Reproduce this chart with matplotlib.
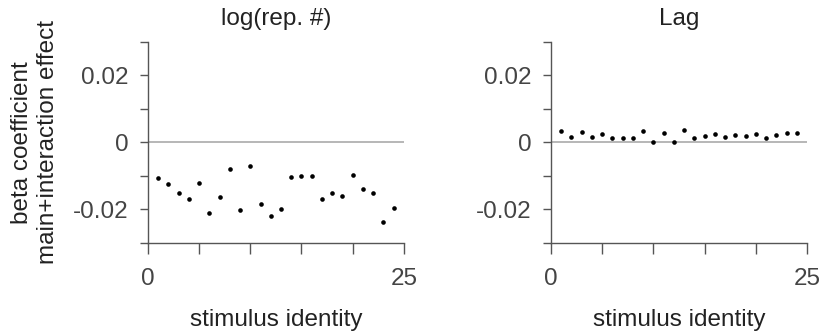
import numpy as np
import matplotlib.pyplot as plt

plt.rcParams["font.family"] = ["Liberation Sans", "DejaVu Sans"]

# ---------- data ---------- #
stim = np.arange(1, 25)
rep_beta = [-0.0105, -0.0123, -0.0150, -0.0169, -0.0121, -0.0212, -0.0163, -0.0079,
            -0.0203, -0.0071, -0.0183, -0.0220, -0.0198, -0.0104, -0.0099, -0.0100,
            -0.0169, -0.0150, -0.0159, -0.0098, -0.0140, -0.0150, -0.0239, -0.0197]
lag_beta = [0.0033, 0.0016, 0.0030, 0.0017, 0.0024, 0.0012, 0.0012, 0.0013,
            0.0035, 0.0002, 0.0028, 0.0000, 0.0037, 0.0014, 0.0020, 0.0025,
            0.0016, 0.0021, 0.0018, 0.0026, 0.0014, 0.0022, 0.0029, 0.0029]
titles = ["log(rep. #)", "Lag"]

spine_col = "#555555"
tick_col = "#444444"
fs = 17.5

fig = plt.figure(figsize=(8.26, 3.35), dpi=100)
ax1 = fig.add_axes([0.179, 0.275, 0.310, 0.600])
ax2 = fig.add_axes([0.667, 0.275, 0.310, 0.600])

for ax, vals, title in zip([ax1, ax2], [rep_beta, lag_beta], titles):
    ax.axhline(0, color="#aaaaaa", linewidth=1.2, zorder=1)
    ax.scatter(stim, vals, s=11, color="black", zorder=3, linewidths=0)
    ax.set_xlim(0, 25)
    ax.set_ylim(-0.03, 0.03)
    ax.set_xticks([0, 5, 10, 15, 20, 25])
    ax.set_xticklabels(["0", "", "", "", "", "25"])
    ax.set_yticks([-0.03, -0.02, -0.01, 0, 0.01, 0.02, 0.03])
    ax.set_yticklabels(["", "-0.02", "", "0", "", "0.02", ""])
    ax.tick_params(axis="x", length=8, width=1, color=spine_col, pad=10,
                   labelsize=fs, labelcolor=tick_col)
    ax.tick_params(axis="y", length=6, width=1, color=spine_col, pad=8,
                   labelsize=fs, labelcolor=tick_col)
    for s in ["top", "right"]:
        ax.spines[s].set_visible(False)
    for s in ["left", "bottom"]:
        ax.spines[s].set_color(spine_col)
        ax.spines[s].set_linewidth(1)
    ax.set_title(title, fontsize=fs, pad=12, color="#222222")
    ax.set_xlabel("stimulus identity", fontsize=fs, labelpad=14, color="#222222")

ax1.set_ylabel("beta coefficient\nmain+interaction effect", fontsize=fs,
               labelpad=10, color="#222222")

fig.savefig("out.png", dpi=100)
